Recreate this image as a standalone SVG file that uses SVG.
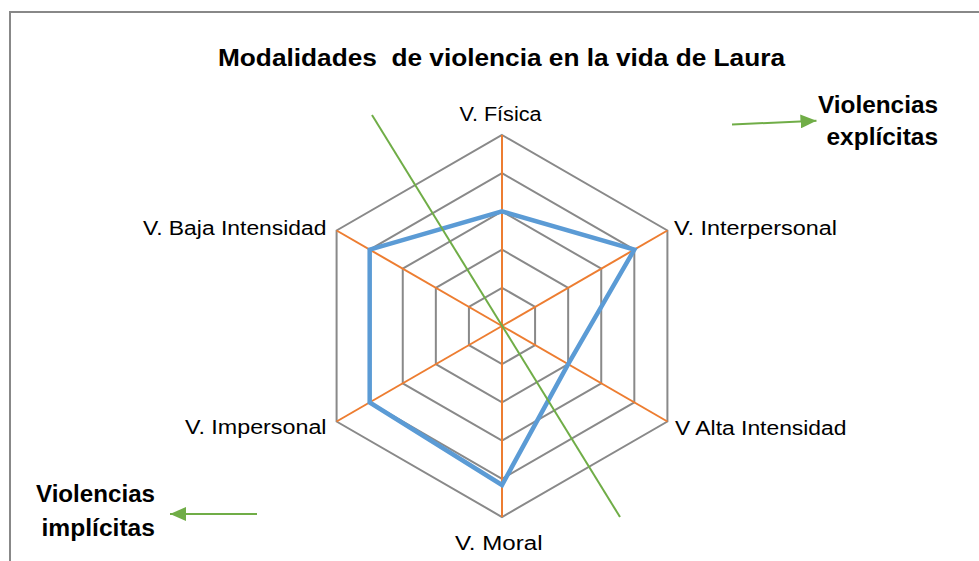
<svg xmlns="http://www.w3.org/2000/svg" width="979" height="561" viewBox="0 0 979 561">
<style>
.ring{fill:none;stroke:#898989;stroke-width:2}
.axis{stroke:#ED7D31;stroke-width:2}
.series{fill:none;stroke:#5B9BD5;stroke-width:4.5;stroke-linejoin:miter}
.green{stroke:#70AD47;stroke-width:2;fill:none}
.lbl{font-family:"Liberation Sans",Arial,sans-serif;font-size:19.5px;fill:#000}
.bold{font-family:"Liberation Sans",Arial,sans-serif;font-size:23px;font-weight:bold;fill:#000}
</style>
<defs>
<marker id="arr" viewBox="0 0 16 14" refX="16" refY="7" markerWidth="16" markerHeight="14" markerUnits="userSpaceOnUse" orient="auto">
<path d="M0,0 L16,7 L0,14 Z" fill="#70AD47"/>
</marker>
</defs>
<rect x="0" y="0" width="979" height="561" fill="#fff"/>
<path d="M10,561 V12 H979" fill="none" stroke="#888" stroke-width="2"/>
<g id="title"><text class="bold" x="218" y="66" textLength="567" lengthAdjust="spacingAndGlyphs" xml:space="preserve">Modalidades  de violencia en la vida de Laura</text></g>
<g id="grid">
<polygon class="ring" points="502,287.8 535.08,306.9 535.08,345.1 502,364.2 468.92,345.1 468.92,306.9"/>
<polygon class="ring" points="502,249.6 568.16,287.8 568.16,364.2 502,402.4 435.84,364.2 435.84,287.8"/>
<polygon class="ring" points="502,211.4 601.24,268.7 601.24,383.3 502,440.6 402.76,383.3 402.76,268.7"/>
<polygon class="ring" points="502,173.2 634.32,249.6 634.32,402.4 502,478.8 369.68,402.4 369.68,249.6"/>
<polygon class="ring" points="502,135 667.41,230.5 667.41,421.5 502,517 336.59,421.5 336.59,230.5"/>
<line class="axis" x1="502" y1="326" x2="502" y2="135"/>
<line class="axis" x1="502" y1="326" x2="667.41" y2="230.5"/>
<line class="axis" x1="502" y1="326" x2="667.41" y2="421.5"/>
<line class="axis" x1="502" y1="326" x2="502" y2="517"/>
<line class="axis" x1="502" y1="326" x2="336.59" y2="421.5"/>
<line class="axis" x1="502" y1="326" x2="336.59" y2="230.5"/>
</g>
<g id="series"><polygon class="series" points="502,211.4 634.32,249.6 568.16,364.2 502,485 369.68,402.4 369.68,249.6"/></g>
<g id="labels">
<g id="fisica"><text class="lbl" x="459.5" y="120.5" textLength="82" lengthAdjust="spacingAndGlyphs">V. Física</text></g>
<g id="interpersonal"><text class="lbl" x="674" y="235" textLength="163" lengthAdjust="spacingAndGlyphs">V. Interpersonal</text></g>
<g id="alta"><text class="lbl" x="675" y="434.5" textLength="171.5" lengthAdjust="spacingAndGlyphs">V Alta Intensidad</text></g>
<g id="moral"><text class="lbl" x="455" y="550" textLength="87.5" lengthAdjust="spacingAndGlyphs">V. Moral</text></g>
<g id="impersonal"><text class="lbl" x="326.5" y="434" text-anchor="end" textLength="141.5" lengthAdjust="spacingAndGlyphs">V. Impersonal</text></g>
<g id="baja"><text class="lbl" x="326.5" y="235" text-anchor="end" textLength="183.5" lengthAdjust="spacingAndGlyphs">V. Baja Intensidad</text></g>
</g>
<g id="divider"><line class="green" x1="372" y1="115" x2="620" y2="517"/></g>
<g id="explicitas">
<text class="bold" x="938" y="112.5" text-anchor="end" textLength="120" lengthAdjust="spacingAndGlyphs">Violencias</text>
<text class="bold" x="938" y="145" text-anchor="end" textLength="111.5" lengthAdjust="spacingAndGlyphs">explícitas</text>
</g>
<g id="implicitas">
<text class="bold" x="155" y="501.5" text-anchor="end" textLength="119" lengthAdjust="spacingAndGlyphs">Violencias</text>
<text class="bold" x="155" y="536" text-anchor="end" textLength="113.5" lengthAdjust="spacingAndGlyphs">implícitas</text>
</g>
<g id="connectors">
<line class="green" x1="732" y1="124.5" x2="816.5" y2="120.7" marker-end="url(#arr)"/>
<line class="green" x1="257" y1="514" x2="170" y2="514" marker-end="url(#arr)"/>
</g>
</svg>
